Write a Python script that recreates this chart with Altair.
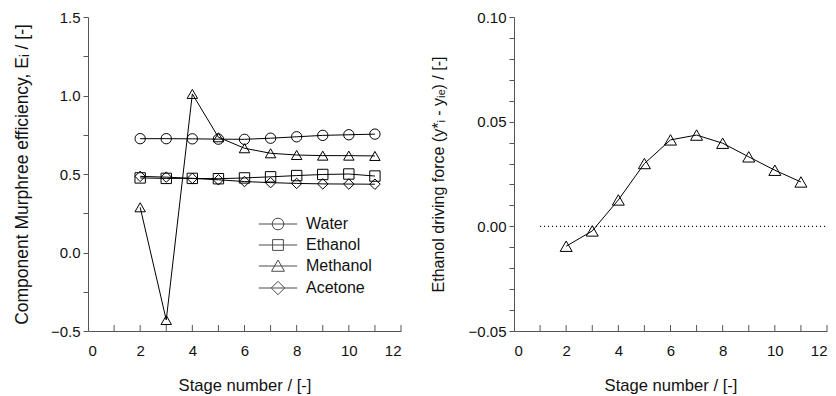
import altair as alt
import pandas as pd

# ---------------- data ----------------
stages = [2, 3, 4, 5, 6, 7, 8, 9, 10, 11]
water = [0.725, 0.725, 0.724, 0.722, 0.721, 0.728, 0.737, 0.746, 0.750, 0.754]
ethanol = [0.475, 0.472, 0.472, 0.470, 0.475, 0.482, 0.490, 0.497, 0.500, 0.487]
methanol = [0.288, -0.430, 1.010, 0.734, 0.664, 0.632, 0.621, 0.617, 0.617, 0.615]
acetone = [0.485, 0.480, 0.472, 0.463, 0.452, 0.445, 0.440, 0.437, 0.436, 0.435]
driving_force = [-0.0095, -0.0022, 0.0126, 0.0300, 0.0413, 0.0436, 0.0397, 0.0332, 0.0268, 0.0212]

series_names = ["Water", "Ethanol", "Methanol", "Acetone"]
x_label_ticks = [0, 2, 4, 6, 8, 10, 12]
x_minor_ticks = [1, 2, 3, 4, 5, 6, 7, 8, 9, 10, 11, 12]
left_y_ticks = [-0.5, -0.25, 0.0, 0.25, 0.5, 0.75, 1.0, 1.25, 1.5]
right_y_ticks = [-0.05, -0.04, -0.03, -0.02, -0.01, 0.0, 0.01, 0.02, 0.03,
                 0.04, 0.05, 0.06, 0.07, 0.08, 0.09, 0.10]
zero_line_start = [1]
zero_line_end = [12]
zero_line_value = [0.0]

# ---------------- tables ----------------
rows = []
for name, vals in zip(series_names, [water, ethanol, methanol, acetone]):
    for s, v in zip(stages, vals):
        rows.append({"stage": s, "value": v, "series": name})
eff_df = pd.DataFrame(rows)
df_right = pd.DataFrame({"stage": stages, "value": driving_force})
ticks_df = pd.DataFrame({"stage": x_minor_ticks})
zero_df = pd.DataFrame({"stage": zero_line_start, "stage_end": zero_line_end,
                        "value": zero_line_value})

# ---------------- style ----------------
FONT = "Liberation Sans"
W, H = 313, 314
AX = "#555555"

x_enc = alt.X(
    "stage:Q",
    scale=alt.Scale(domain=[0, 12], nice=False, zero=False),
    axis=alt.Axis(values=x_label_ticks, ticks=False, labelPadding=12,
                  format="d", title="Stage number / [-]", titlePadding=19,
                  titleFontSize=16.6),
)

# ---------------- left panel ----------------
y_left = alt.Y(
    "value:Q",
    scale=alt.Scale(domain=[-0.5, 1.5], nice=False, zero=False),
    axis=alt.Axis(
        values=left_y_ticks,
        labelExpr="abs(datum.value*2 - round(datum.value*2)) < 1e-6 ? format(datum.value, '.1f') : ''",
        tickSize=5, labelPadding=3,
        title="Component Murphree efficiency, Eᵢ / [-]", titlePadding=19,
        titleFontSize=17.5,
    ),
)

lines_left = alt.Chart(eff_df).mark_line(color="black", strokeWidth=1).encode(
    x=x_enc, y=y_left, detail="series:N", order="stage:Q"
)

points_left = alt.Chart(eff_df).mark_point(
    filled=False, color="black", strokeWidth=1, opacity=1
).encode(
    x=x_enc, y=y_left,
    shape=alt.Shape("series:N",
                    scale=alt.Scale(domain=series_names,
                                    range=["circle", "square", "triangle-up", "diamond"]),
                    legend=None),
    size=alt.Size("series:N",
                  scale=alt.Scale(domain=series_names, range=[107, 110, 144, 160]),
                  legend=None),
)

legend_paths = [
    "M-3.2,0H3.2M0.97,0A0.97,0.97 0 1 1 -0.97,0A0.97,0.97 0 1 1 0.97,0",
    "M-3.2,0H3.2M-0.9,-0.9H0.9V0.9H-0.9Z",
    "M-3.2,0H3.2M0,-1.0L1.08,0.88L-1.08,0.88Z",
    "M-3.2,0H3.2M0,-1.12L1.12,0L0,1.12L-1.12,0Z",
]

legend_layer = alt.Chart(eff_df).transform_filter("false").mark_point(
    filled=False, color="black", strokeWidth=1
).encode(
    shape=alt.Shape(
        "series:N",
        scale=alt.Scale(domain=series_names, range=legend_paths),
        legend=alt.Legend(
            title=None, orient="none", legendX=182, legendY=199,
            symbolSize=144, symbolStrokeWidth=1, symbolStrokeColor="black",
            symbolFillColor="transparent", labelFont=FONT, labelFontSize=16,
            labelColor="#111111", labelOffset=20, rowPadding=5, padding=0,
        ),
    )
)

xticks_left = alt.Chart(ticks_df).mark_rule(color=AX, strokeWidth=1).encode(
    x=x_enc, y=alt.value(H), y2=alt.value(H - 6)
)

left = alt.layer(lines_left, points_left, legend_layer, xticks_left).resolve_scale(
    shape="independent"
).properties(width=W, height=H)

# ---------------- right panel ----------------
y_right = alt.Y(
    "value:Q",
    scale=alt.Scale(domain=[-0.05, 0.10], nice=False, zero=False),
    axis=alt.Axis(
        values=right_y_ticks,
        labelExpr="abs(datum.value*20 - round(datum.value*20)) < 1e-6 ? format(datum.value, '.2f') : ''",
        tickSize=5, labelPadding=3,
        title="Ethanol driving force (y*ᵢ - yᵢₑ) / [-]", titlePadding=22,
    ),
)

zero_rule = alt.Chart(zero_df).mark_rule(color="black", strokeWidth=1.2, strokeDash=[1, 3]).encode(
    x=x_enc, x2="stage_end:Q", y=y_right
)

line_right = alt.Chart(df_right).mark_line(color="black", strokeWidth=1).encode(
    x=x_enc, y=y_right, order="stage:Q"
)
points_right = alt.Chart(df_right).mark_point(
    filled=False, color="black", strokeWidth=1, shape="triangle-up", size=144, opacity=1
).encode(x=x_enc, y=y_right)

xticks_right = alt.Chart(ticks_df).mark_rule(color=AX, strokeWidth=1).encode(
    x=x_enc, y=alt.value(H), y2=alt.value(H - 6)
)

right = alt.layer(zero_rule, line_right, points_right, xticks_right).properties(width=W, height=H)

chart = alt.hconcat(left, right, spacing=28).properties(
    padding={"left": 5, "top": 2, "right": 0, "bottom": 0}
).configure_view(stroke=None).configure_axis(
    grid=False,
    labelFont=FONT, titleFont=FONT,
    labelFontSize=15, titleFontSize=16,
    labelColor="#111111", titleColor="#111111",
    titleFontWeight="normal",
    domainColor=AX, tickColor=AX, domainWidth=1, tickWidth=1,
)

chart.save("out.html", embed_options={"renderer": "svg", "actions": False})
